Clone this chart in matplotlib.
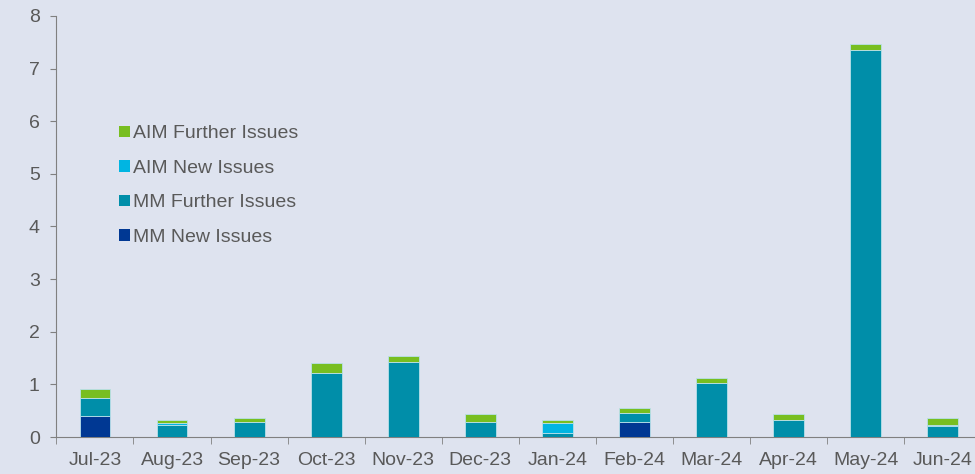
import matplotlib.pyplot as plt
import numpy as np

plt.rcParams['font.family'] = ['Liberation Sans', 'DejaVu Sans']

months = ["Jul-23", "Aug-23", "Sep-23", "Oct-23", "Nov-23", "Dec-23",
          "Jan-24", "Feb-24", "Mar-24", "Apr-24", "May-24", "Jun-24"]
mm_new = [0.40, 0.0, 0.0, 0.0, 0.0, 0.0, 0.0, 0.29, 0.0, 0.0, 0.0, 0.0]
mm_further = [0.35, 0.23, 0.29, 1.21, 1.42, 0.29, 0.08, 0.16, 1.02, 0.33, 7.35, 0.21]
aim_new = [0.0, 0.04, 0.0, 0.0, 0.0, 0.0, 0.18, 0.0, 0.0, 0.0, 0.0, 0.01]
aim_further = [0.16, 0.06, 0.07, 0.19, 0.11, 0.14, 0.07, 0.10, 0.10, 0.10, 0.12, 0.14]

series = [("MM New Issues", mm_new, "#003893"),
          ("MM Further Issues", mm_further, "#008ea9"),
          ("AIM New Issues", aim_new, "#00b5e2"),
          ("AIM Further Issues", aim_further, "#78be20")]

bg = "#dee3ef"
txt = "#595959"

fig = plt.figure(figsize=(9.75, 4.74), dpi=100, facecolor=bg)
ax = fig.add_axes([56.4 / 975, 1 - 437 / 474, 925 / 975, 421 / 474])
ax.set_facecolor(bg)

x = np.arange(len(months))
bottom = np.zeros(len(months))
handles = []
for name, vals, col in series:
    vals = np.array(vals)
    b = ax.bar(x, vals, 0.4, bottom=bottom, color=col, edgecolor="#b9e0ea",
               linewidth=0.6, label=name, zorder=3)
    handles.append(b)
    bottom += vals

ax.set_xlim(-0.5, 11.5)
ax.set_ylim(0, 8)
ax.set_yticks(range(0, 9))
ax.set_xticks(x)
ax.set_xticklabels(months)
ax.set_xticks(np.arange(-0.5, 12, 1), minor=True)
ax.tick_params(axis="x", which="major", length=0, pad=11, labelsize=14, labelcolor=txt)
ax.tick_params(axis="x", which="minor", length=5, color="#808080", direction="out")
ax.tick_params(axis="y", length=4, color="#808080", labelsize=14, labelcolor=txt, pad=8)

for s in ["top", "right"]:
    ax.spines[s].set_visible(False)
ax.spines["left"].set_color("#808080")
ax.spines["bottom"].set_color("#808080")

leg = ax.legend(handles[::-1], [s[0] for s in series][::-1], loc="upper left",
                bbox_to_anchor=(0.049, 0.782), frameon=False, fontsize=14,
                handlelength=0.55, handleheight=0.55, handletextpad=0.18,
                labelspacing=0.9, labelcolor=txt)
for h in leg.legend_handles:
    h.set_edgecolor("none")

fig.savefig("out.png", dpi=100, facecolor=bg)
